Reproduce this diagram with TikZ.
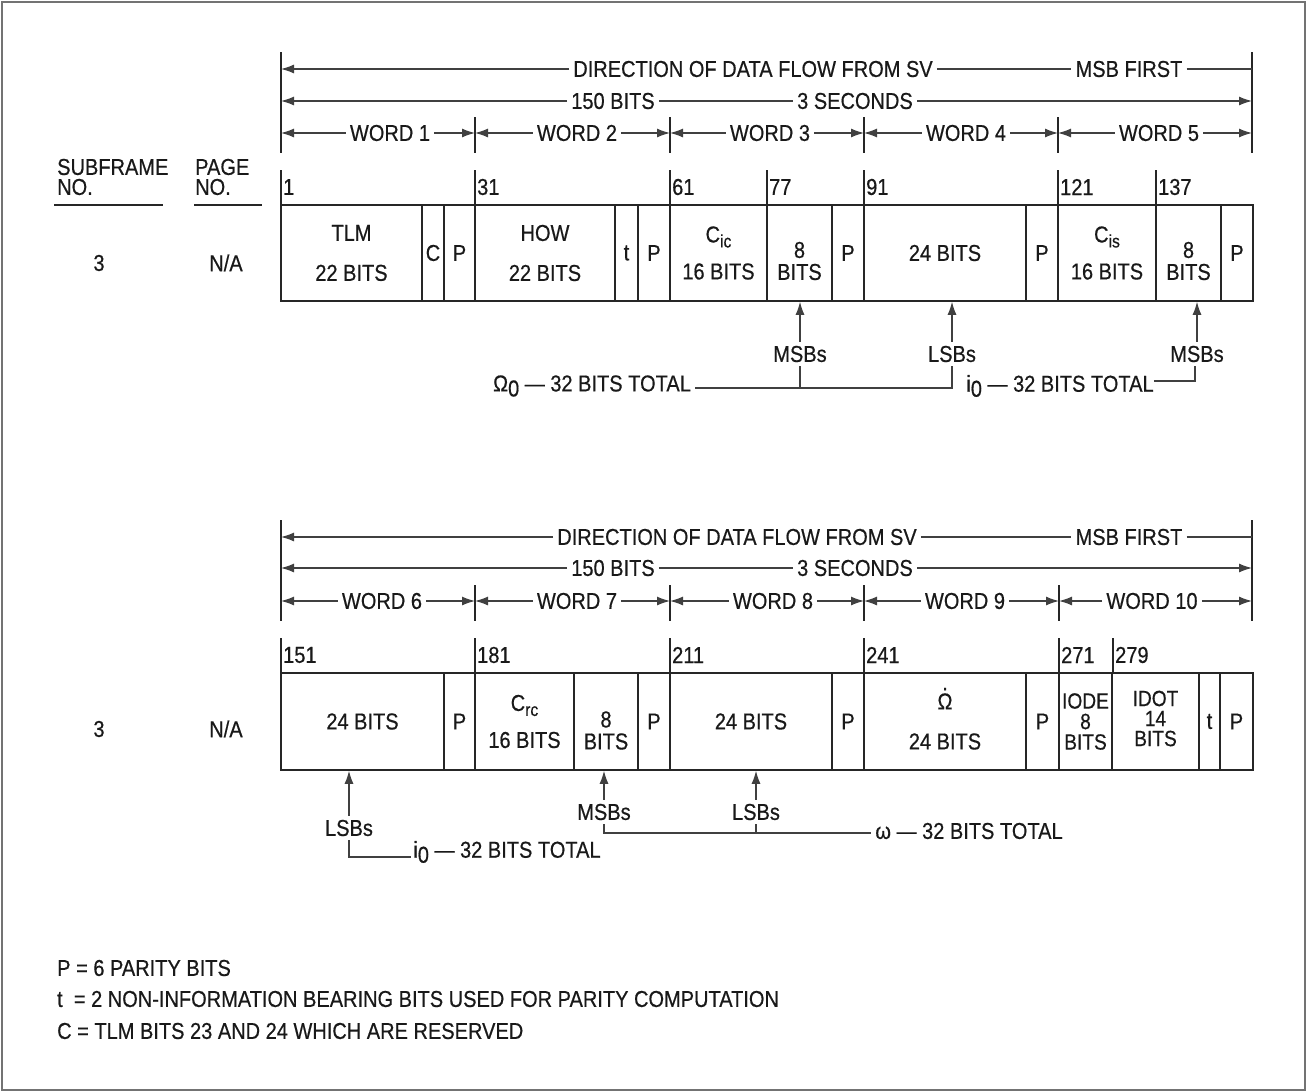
\documentclass[tikz,border=0pt]{standalone}
\usepackage{fontspec}
\setmainfont{Liberation Sans}[FakeStretch=0.87, FakeBold=0.5]
\usetikzlibrary{arrows.meta}

\newcommand\cellfont{\fontsize{23}{22}\selectfont}
\newcommand\subfont{\fontsize{18}{18}\selectfont}
\newcommand\dn[1]{\raisebox{-5pt}{#1}}
\newcommand\dotOmega{\ooalign{Ω\cr\hidewidth\raisebox{19pt}{.}\hidewidth\cr}}

\tikzset{
	cell/.style={draw=black!85, line width=1.6pt, minimum height=96pt, inner sep=0pt, align=center, font=\cellfont, text=black!90},
	txt/.style={inner sep=4pt, font=\cellfont, text=black!90},
	bar/.style={draw=black!85, line width=1.6pt},
	ln/.style={draw=black!75, line width=1.2pt},
	ptr/.style={draw=black!75, line width=1.2pt, -{Latex[length=13pt,width=9pt]}},
}

\begin{document}
\begin{tikzpicture}[x=1pt, y=-1pt, every label/.style={align=center, font=\cellfont, text=black!90}]
	\useasboundingbox (0,0) rectangle (1307,1092);
	\draw[black!55, line width=2pt] (2,2) rectangle (1305,1090);

	% column heads
	\node[txt, anchor=west, align=left, inner sep=0pt, font=\fontsize{23}{20}\selectfont] (subno) at (57,177) {SUBFRAME\\NO.};
	\node[txt, anchor=west, align=left, inner sep=0pt, font=\fontsize{23}{20}\selectfont] (pageno) at (195,177) {PAGE\\NO.};
	\draw[bar] (54,205) -- (163,205);
	\draw[bar] (194,205) -- (262,205);

	% ---------- words 1 to 5 ----------
	\foreach \x in {281,1252} \draw[bar] (\x,52) -- (\x,153);
	\foreach \x in {475,670,864,1058} \draw[bar] (\x,117) -- (\x,153);
	\coordinate (aL) at (281,69);
	\coordinate (aR) at (1252,69);
	\coordinate (bL) at (281,101);
	\coordinate (bR) at (1252,101);
	\node[txt] (dir1) at (753,69) {DIRECTION OF DATA FLOW FROM SV};
	\node[txt] (first1) at (1129,69) {MSB FIRST};
	\draw[ptr] (dir1) -- (aL);
	\draw[ln] (dir1) -- (first1);
	\draw[ln] (first1) -- (aR);
	\node[txt] (bits1) at (613,101) {150 BITS};
	\node[txt] (sec1) at (855,101) {3 SECONDS};
	\draw[ptr] (bits1) -- (bL);
	\draw[ln] (bits1) -- (sec1);
	\draw[ptr] (sec1) -- (bR);

	\foreach \i/\x in {0/281,1/475,2/670,3/864,4/1058,5/1252} \coordinate (k\i) at (\x,133);
	\foreach \l/\w/\x in {0/1/390,1/2/577,2/3/770,3/4/966,4/5/1159} {
		\node[txt] (word\w) at (\x,133) {WORD \w};
		\draw[ptr] (word\w) -- (k\l);
		\draw[ptr] (word\w) -- (k\w);
	}

	\foreach \x/\n in {281/1,475/31,670/61,767/77,864/91,1058/121,1156/137} {
		\draw[bar] (\x,170) -- (\x,205);
		\node[txt, anchor=west, inner sep=2pt] (num\n) at (\x,187) {\n};
	}

	\node[txt] (sf1) at (99,263) {3};
	\node[txt] (pg1) at (226,263) {N/A};

	\node[cell, minimum width=141pt] (tlm) at (351.5,253) {TLM\\[18pt]22 BITS};
	\node[cell, minimum width=22pt] (cres) at (433,253) {C};
	\node[cell, minimum width=31pt] (p1) at (459.5,253) {P};
	\node[cell, minimum width=140pt] (how) at (545,253) {HOW\\[18pt]22 BITS};
	\node[cell, minimum width=23pt] (t1) at (626.5,253) {t};
	\node[cell, minimum width=32pt] (p2) at (654,253) {P};
	\node[cell, minimum width=97pt] (cic) at (718.5,253) {C\dn{\subfont ic}\\[15pt]16 BITS};
	\node[cell, minimum width=65pt, label={[yshift=-8pt]center:8\\BITS}] (oma) at (799.5,253) {};
	\node[cell, minimum width=32pt] (p3) at (848,253) {P};
	\node[cell, minimum width=162pt] (omb) at (945,253) {24 BITS};
	\node[cell, minimum width=32pt] (p4) at (1042,253) {P};
	\node[cell, minimum width=98pt] (cis) at (1107,253) {C\dn{\subfont is}\\[15pt]16 BITS};
	\node[cell, minimum width=65pt, label={[yshift=-8pt]center:8\\BITS}] (ia) at (1188.5,253) {};
	\node[cell, minimum width=32pt] (p5) at (1237,253) {P};

	\node[txt] (msbA) at (800,354) {MSBs};
	\node[txt] (lsbA) at (952,354) {LSBs};
	\node[txt] (msbB) at (1197,354) {MSBs};
	\draw[ptr] (msbA) -- (msbA |- oma.south);
	\draw[ptr] (lsbA) -- (lsbA |- omb.south);
	\draw[ptr] (msbB) -- (msbB |- ia.south);

	\node[txt] (omtot) at (592,386) {Ω\dn{0} — 32 BITS TOTAL};
	\coordinate (omc) at (952,388);
	\draw[ln] (omtot.east |- omc) -- (omc) -- (lsbA.south);
	\draw[ln] (msbA.south) -- (msbA.south |- omc);
	\node[txt] (itot) at (1060,386) {i\dn{0} — 32 BITS TOTAL};
	\coordinate (ic) at (1195,381);
	\draw[ln] ([xshift=-4pt]itot.east |- ic) -- (ic) -- (msbB.south -| ic);

	% ---------- words 6 to 10 ----------
	\foreach \x in {281,1252} \draw[bar] (\x,520) -- (\x,621);
	\foreach \x in {475,670,864,1059} \draw[bar] (\x,585) -- (\x,621);
	\coordinate (cL) at (281,537);
	\coordinate (cR) at (1252,537);
	\coordinate (dL) at (281,568);
	\coordinate (dR) at (1252,568);
	\node[txt] (dir2) at (737,537) {DIRECTION OF DATA FLOW FROM SV};
	\node[txt] (first2) at (1129,537) {MSB FIRST};
	\draw[ptr] (dir2) -- (cL);
	\draw[ln] (dir2) -- (first2);
	\draw[ln] (first2) -- (cR);
	\node[txt] (bits2) at (613,568) {150 BITS};
	\node[txt] (sec2) at (855,568) {3 SECONDS};
	\draw[ptr] (bits2) -- (dL);
	\draw[ln] (bits2) -- (sec2);
	\draw[ptr] (sec2) -- (dR);

	\foreach \i/\x in {0/281,1/475,2/670,3/864,4/1059,5/1252} \coordinate (m\i) at (\x,601);
	\foreach \l/\w/\x in {0/6/382,1/7/577,2/8/773,3/9/965,4/10/1152} {
		\node[txt] (word\w) at (\x,601) {WORD \w};
		\draw[ptr] (word\w) -- (m\l);
		\pgfmathtruncatemacro\r{\l+1}
		\draw[ptr] (word\w) -- (m\r);
	}

	\foreach \x/\n in {281/151,475/181,670/211,864/241,1059/271,1113/279} {
		\draw[bar] (\x,638) -- (\x,673);
		\node[txt, anchor=west, inner sep=2pt] (num\n) at (\x,655) {\n};
	}

	\node[txt] (sf2) at (99,729) {3};
	\node[txt] (pg2) at (226,729) {N/A};

	\node[cell, minimum width=163pt, minimum height=97pt] (ib) at (362.5,721.5) {24 BITS};
	\node[cell, minimum width=31pt, minimum height=97pt] (p6) at (459.5,721.5) {P};
	\node[cell, minimum width=99pt, minimum height=97pt] (crc) at (524.5,721.5) {C\dn{\subfont rc}\\[15pt]16 BITS};
	\node[cell, minimum width=64pt, minimum height=97pt, label={[yshift=-9pt]center:8\\BITS}] (wa) at (606,721.5) {};
	\node[cell, minimum width=32pt, minimum height=97pt] (p7) at (654,721.5) {P};
	\node[cell, minimum width=162pt, minimum height=97pt] (wb) at (751,721.5) {24 BITS};
	\node[cell, minimum width=32pt, minimum height=97pt] (p8) at (848,721.5) {P};
	\node[cell, minimum width=162pt, minimum height=97pt] (omdot) at (945,721.5) {\dotOmega\\[18pt]24 BITS};
	\node[cell, minimum width=33pt, minimum height=97pt] (p9) at (1042.5,721.5) {P};
	\node[cell, minimum width=53pt, minimum height=97pt, font=\fontsize{22}{20.5}\selectfont] (iode) at (1085.5,721.5) {IODE\\8\\BITS};
	\node[cell, minimum width=87pt, minimum height=97pt, label={[yshift=3pt, font=\fontsize{22}{20}\selectfont]center:IDOT\\14\\BITS}] (idot) at (1155.5,721.5) {};
	\node[cell, minimum width=21pt, minimum height=97pt] (t2) at (1209.5,721.5) {t};
	\node[cell, minimum width=33pt, minimum height=97pt] (p10) at (1236.5,721.5) {P};

	\node[txt] (lsbC) at (349,828) {LSBs};
	\node[txt] (msbC) at (604,812) {MSBs};
	\node[txt] (lsbD) at (756,812) {LSBs};
	\draw[ptr] (lsbC) -- (lsbC |- ib.south);
	\draw[ptr] (msbC) -- (msbC |- wa.south);
	\draw[ptr] (lsbD) -- (lsbD |- wb.south);

	\node[txt] (ibtot) at (507,852) {i\dn{0} — 32 BITS TOTAL};
	\coordinate (ibc) at (349,857);
	\draw[ln] (lsbC.south) -- (ibc) -- ([xshift=2pt]ibtot.west |- ibc);
	\node[txt] (wtot) at (969,831) {ω — 32 BITS TOTAL};
	\coordinate (wc) at (604,833);
	\draw[ln] (msbC.south) -- (wc) -- (wtot.west |- wc);
	\draw[ln] (lsbD.south) -- (lsbD.south |- wc);

	% notes
	\node[txt, anchor=west, inner sep=0pt] (noteP) at (57,968) {P = 6 PARITY BITS};
	\node[txt, anchor=west, inner sep=0pt] (noteT) at (57,999) {t\ \ = 2 NON-INFORMATION BEARING BITS USED FOR PARITY COMPUTATION};
	\node[txt, anchor=west, inner sep=0pt] (noteC) at (57,1031) {C = TLM BITS 23 AND 24 WHICH ARE RESERVED};

\end{tikzpicture}
\end{document}
